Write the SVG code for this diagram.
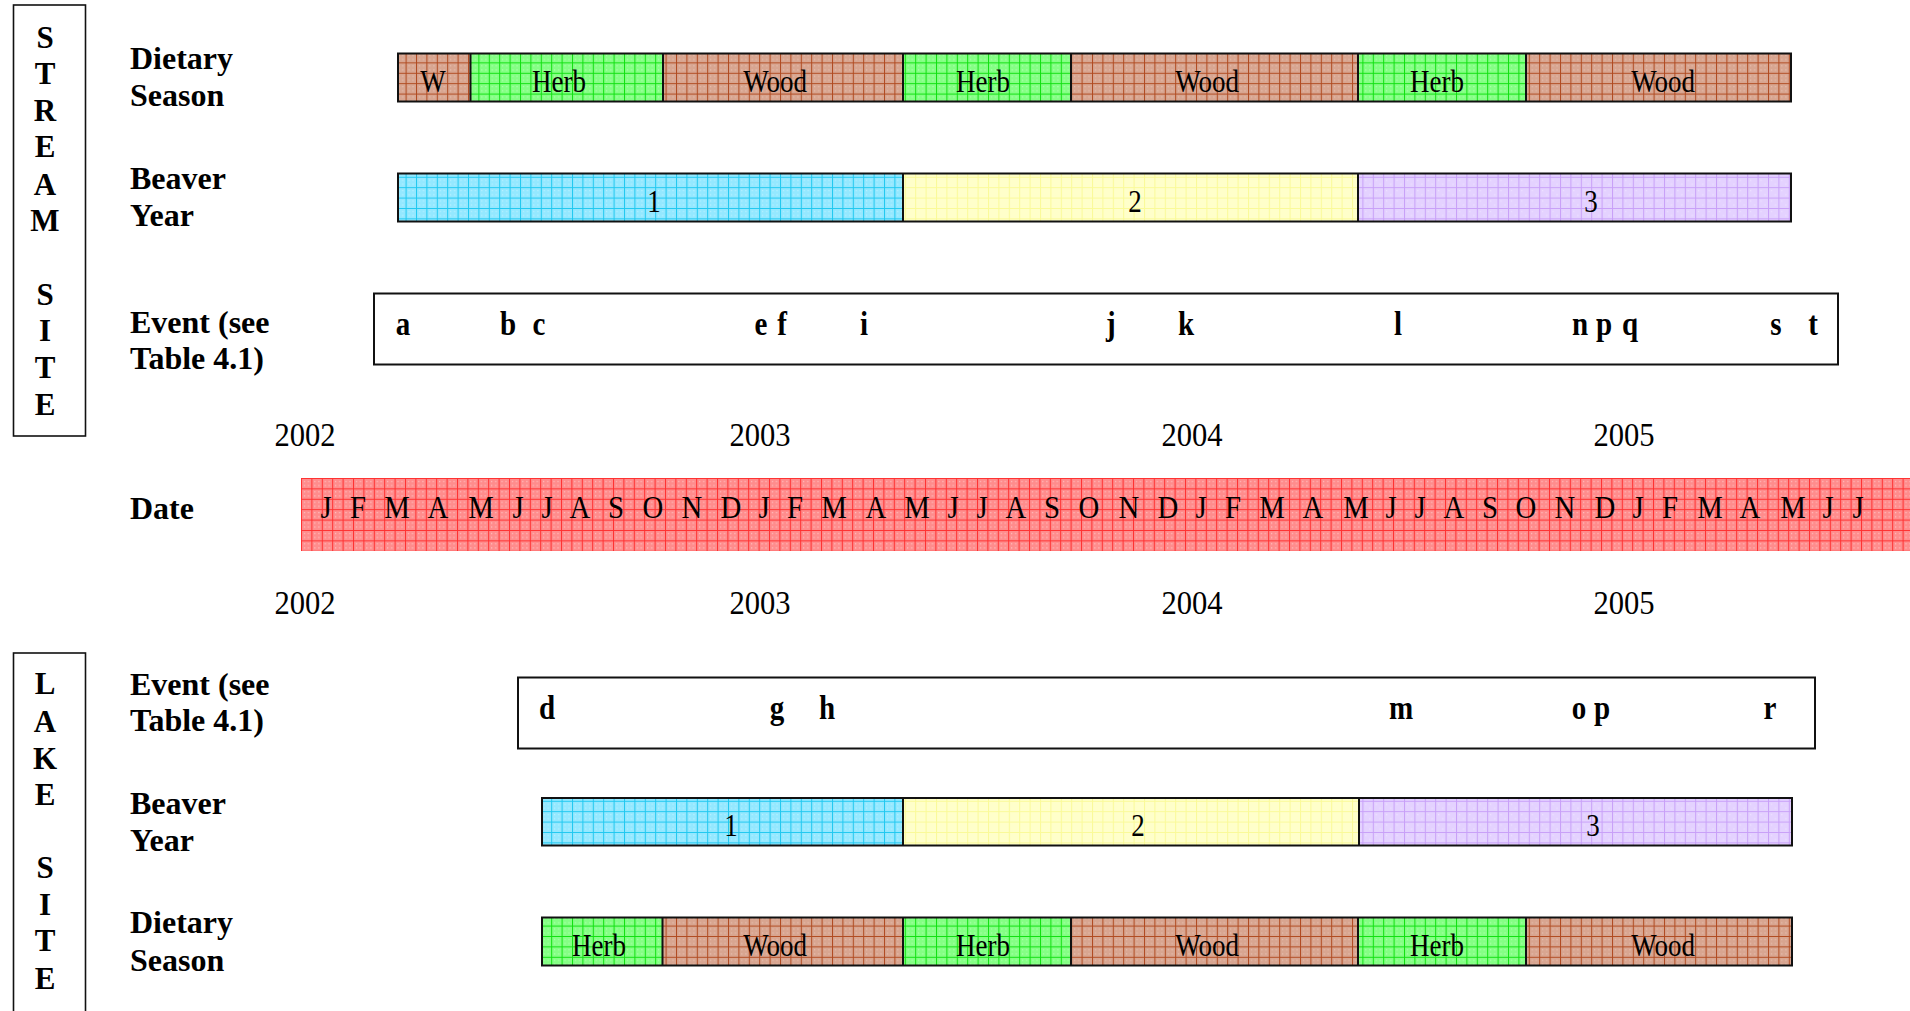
<svg xmlns="http://www.w3.org/2000/svg" width="1910" height="1011" viewBox="0 0 1910 1011">
<style>
.lbl{font-family:"Liberation Serif","Times New Roman",serif;font-weight:bold;font-size:32px;fill:#000}
.vl{font-family:"Liberation Serif","Times New Roman",serif;font-weight:bold;font-size:31px;fill:#000;text-anchor:middle}
.ev{font-family:"Liberation Serif","Times New Roman",serif;font-weight:bold;font-size:33px;fill:#000;text-anchor:middle;transform-box:fill-box;transform-origin:center;transform:scaleX(0.88)}
.bt{font-family:"Liberation Serif","Times New Roman",serif;font-size:31px;fill:#000;text-anchor:middle;transform-box:fill-box;transform-origin:center;transform:scaleX(0.87)}
.mo{font-family:"Liberation Serif","Times New Roman",serif;font-size:32px;fill:#000;text-anchor:middle;transform-box:fill-box;transform-origin:center;transform:scaleX(0.9)}
.yr{font-family:"Liberation Serif","Times New Roman",serif;font-size:34px;fill:#000;text-anchor:middle;transform-box:fill-box;transform-origin:center;transform:scaleX(0.9)}
.box{fill:#fff;stroke:#111;stroke-width:2}
.seg{stroke:#111;stroke-width:2}
</style>
<defs>
<pattern id="pWood" width="10.4" height="10.4" patternUnits="userSpaceOnUse">
<rect width="10.4" height="10.4" fill="#d8a590"/>
<path d="M0 0.5H10.4M0.5 0V10.4" stroke="#b04a20" stroke-width="1"/>
<g fill="#f4d8cc" opacity="0.7"><rect x="3" y="3" width="1" height="1"/><rect x="7" y="7" width="1" height="1"/><rect x="7" y="3" width="1" height="1"/><rect x="3" y="7" width="1" height="1"/></g>
</pattern>
<pattern id="pHerb" width="10.4" height="10.4" patternUnits="userSpaceOnUse">
<rect width="10.4" height="10.4" fill="#84ff84"/>
<path d="M0 0.5H10.4M0.5 0V10.4" stroke="#10e010" stroke-width="1"/>
<g fill="#d6ffd6" opacity="0.7"><rect x="3" y="3" width="1" height="1"/><rect x="7" y="7" width="1" height="1"/><rect x="7" y="3" width="1" height="1"/><rect x="3" y="7" width="1" height="1"/></g>
</pattern>
<pattern id="pY1" width="10.4" height="10.4" patternUnits="userSpaceOnUse">
<rect width="10.4" height="10.4" fill="#94e8ff"/>
<path d="M0 0.5H10.4M0.5 0V10.4" stroke="#20c8f0" stroke-width="1"/>
<g fill="#e0f8ff" opacity="0.7"><rect x="3" y="3" width="1" height="1"/><rect x="7" y="7" width="1" height="1"/><rect x="7" y="3" width="1" height="1"/><rect x="3" y="7" width="1" height="1"/></g>
</pattern>
<pattern id="pY2" width="10.4" height="10.4" patternUnits="userSpaceOnUse">
<rect width="10.4" height="10.4" fill="#ffffca"/>
<path d="M0 0.5H10.4M0.5 0V10.4" stroke="#fafa98" stroke-width="1"/>
</pattern>
<pattern id="pY3" width="10.4" height="10.4" patternUnits="userSpaceOnUse">
<rect width="10.4" height="10.4" fill="#e4d2ff"/>
<path d="M0 0.5H10.4M0.5 0V10.4" stroke="#c8a0f8" stroke-width="1"/>
<g fill="#f6efff" opacity="0.7"><rect x="3" y="3" width="1" height="1"/><rect x="7" y="7" width="1" height="1"/></g>
</pattern>
<pattern id="pDate" width="10.4" height="10.4" patternUnits="userSpaceOnUse" x="301" y="478">
<rect width="10.4" height="10.4" fill="#ff8c8c"/>
<path d="M0 0.5H10.4M0.5 0V10.4" stroke="#ff3030" stroke-width="1"/>
<g fill="#ffe6e6" opacity="0.8"><rect x="3" y="3" width="1" height="1"/><rect x="7" y="7" width="1" height="1"/><rect x="7" y="3" width="1" height="1"/><rect x="3" y="7" width="1" height="1"/></g>
</pattern>
</defs>
<rect width="1910" height="1011" fill="#fff"/>

<g id="stream-site">
<rect x="13.5" y="5" width="72" height="431" fill="none" stroke="#111" stroke-width="1.6"/>
<text class="vl"><tspan x="45" y="48">S</tspan><tspan x="45" y="84">T</tspan><tspan x="45" y="121">R</tspan><tspan x="45" y="157">E</tspan><tspan x="45" y="195">A</tspan><tspan x="45" y="231">M</tspan><tspan x="45" y="305">S</tspan><tspan x="45" y="341">I</tspan><tspan x="45" y="378">T</tspan><tspan x="45" y="415">E</tspan></text>
</g>

<g id="stream-dietary-label"><text class="lbl" x="130" y="69">Dietary</text><text class="lbl" x="130" y="106">Season</text></g>
<g id="stream-dietary">
<rect x="398" y="53.5" width="72.5" height="48" fill="url(#pWood)"/>
<rect x="470.5" y="53.5" width="192.5" height="48" fill="url(#pHerb)"/>
<rect x="663" y="53.5" width="240" height="48" fill="url(#pWood)"/>
<rect x="903" y="53.5" width="168" height="48" fill="url(#pHerb)"/>
<rect x="1071" y="53.5" width="287" height="48" fill="url(#pWood)"/>
<rect x="1358" y="53.5" width="168" height="48" fill="url(#pHerb)"/>
<rect x="1526" y="53.5" width="265" height="48" fill="url(#pWood)"/>
<rect x="398" y="53.5" width="1393" height="48" fill="none" class="seg"/>
<path class="seg" d="M470.5 53.5V101.5M663 53.5V101.5M903 53.5V101.5M1071 53.5V101.5M1358 53.5V101.5M1526 53.5V101.5"/>
<text class="bt" x="433" y="92">W</text>
<text class="bt" x="559" y="92">Herb</text>
<text class="bt" x="775" y="92">Wood</text>
<text class="bt" x="983" y="92">Herb</text>
<text class="bt" x="1207" y="92">Wood</text>
<text class="bt" x="1437" y="92">Herb</text>
<text class="bt" x="1663" y="92">Wood</text>
</g>

<g id="stream-beaver-label"><text class="lbl" x="130" y="189">Beaver</text><text class="lbl" x="130" y="226">Year</text></g>
<g id="stream-beaver-year">
<rect x="398" y="173.5" width="505" height="48" fill="url(#pY1)"/>
<rect x="903" y="173.5" width="455" height="48" fill="url(#pY2)"/>
<rect x="1358" y="173.5" width="433" height="48" fill="url(#pY3)"/>
<rect x="398" y="173.5" width="1393" height="48" fill="none" class="seg"/>
<path class="seg" d="M903 173.5V221.5M1358 173.5V221.5"/>
<text class="bt" x="654" y="212">1</text>
<text class="bt" x="1135" y="212">2</text>
<text class="bt" x="1591" y="212">3</text>
</g>

<g id="stream-event-label"><text class="lbl" x="130" y="333">Event (see</text><text class="lbl" x="130" y="369">Table 4.1)</text></g>
<g id="stream-events">
<rect class="box" x="374" y="293.5" width="1464" height="71"/>
<text class="ev" x="403" y="335">a</text>
<text class="ev" x="508" y="335">b</text>
<text class="ev" x="539" y="335">c</text>
<text class="ev" x="761" y="335">e</text>
<text class="ev" x="782" y="335">f</text>
<text class="ev" x="864" y="335">i</text>
<text class="ev" x="1111" y="335">j</text>
<text class="ev" x="1186" y="335">k</text>
<text class="ev" x="1398" y="335">l</text>
<text class="ev" x="1580" y="335">n</text>
<text class="ev" x="1604" y="335">p</text>
<text class="ev" x="1630" y="335">q</text>
<text class="ev" x="1776" y="335">s</text>
<text class="ev" x="1813" y="335">t</text>
</g>

<g id="years-top">
<text class="yr" x="305" y="446">2002</text>
<text class="yr" x="760" y="446">2003</text>
<text class="yr" x="1192" y="446">2004</text>
<text class="yr" x="1624" y="446">2005</text>
</g>

<g id="date-label"><text class="lbl" x="130" y="519">Date</text></g>
<g id="date-bar">
<rect x="301" y="478" width="1609" height="73" fill="url(#pDate)"/>
<text class="mo" x="326" y="518">J</text><text class="mo" x="358" y="518">F</text><text class="mo" x="397" y="518">M</text><text class="mo" x="438" y="518">A</text><text class="mo" x="481" y="518">M</text><text class="mo" x="518" y="518">J</text><text class="mo" x="547" y="518">J</text><text class="mo" x="580" y="518">A</text><text class="mo" x="616" y="518">S</text><text class="mo" x="653" y="518">O</text><text class="mo" x="692" y="518">N</text><text class="mo" x="731" y="518">D</text>
<text class="mo" x="764" y="518">J</text><text class="mo" x="795" y="518">F</text><text class="mo" x="834" y="518">M</text><text class="mo" x="876" y="518">A</text><text class="mo" x="917" y="518">M</text><text class="mo" x="953" y="518">J</text><text class="mo" x="982" y="518">J</text><text class="mo" x="1016" y="518">A</text><text class="mo" x="1052" y="518">S</text><text class="mo" x="1089" y="518">O</text><text class="mo" x="1129" y="518">N</text><text class="mo" x="1168" y="518">D</text>
<text class="mo" x="1201" y="518">J</text><text class="mo" x="1233" y="518">F</text><text class="mo" x="1272" y="518">M</text><text class="mo" x="1313" y="518">A</text><text class="mo" x="1356" y="518">M</text><text class="mo" x="1391" y="518">J</text><text class="mo" x="1420" y="518">J</text><text class="mo" x="1454" y="518">A</text><text class="mo" x="1490" y="518">S</text><text class="mo" x="1526" y="518">O</text><text class="mo" x="1565" y="518">N</text><text class="mo" x="1605" y="518">D</text>
<text class="mo" x="1638" y="518">J</text><text class="mo" x="1670" y="518">F</text><text class="mo" x="1710" y="518">M</text><text class="mo" x="1750" y="518">A</text><text class="mo" x="1793" y="518">M</text><text class="mo" x="1828" y="518">J</text><text class="mo" x="1858" y="518">J</text>
</g>

<g id="years-bottom">
<text class="yr" x="305" y="614">2002</text>
<text class="yr" x="760" y="614">2003</text>
<text class="yr" x="1192" y="614">2004</text>
<text class="yr" x="1624" y="614">2005</text>
</g>

<g id="lake-site">
<rect x="13.5" y="653" width="72" height="370" fill="none" stroke="#111" stroke-width="1.6"/>
<text class="vl"><tspan x="45" y="694">L</tspan><tspan x="45" y="732">A</tspan><tspan x="45" y="769">K</tspan><tspan x="45" y="805">E</tspan><tspan x="45" y="878">S</tspan><tspan x="45" y="915">I</tspan><tspan x="45" y="951">T</tspan><tspan x="45" y="989">E</tspan></text>
</g>

<g id="lake-event-label"><text class="lbl" x="130" y="695">Event (see</text><text class="lbl" x="130" y="731">Table 4.1)</text></g>
<g id="lake-events">
<rect class="box" x="518" y="677.5" width="1297" height="71"/>
<text class="ev" x="547" y="719">d</text>
<text class="ev" x="777" y="719">g</text>
<text class="ev" x="827" y="719">h</text>
<text class="ev" x="1401" y="719">m</text>
<text class="ev" x="1579" y="719">o</text>
<text class="ev" x="1602" y="719">p</text>
<text class="ev" x="1770" y="719">r</text>
</g>

<g id="lake-beaver-label"><text class="lbl" x="130" y="814">Beaver</text><text class="lbl" x="130" y="851">Year</text></g>
<g id="lake-beaver-year">
<rect x="542" y="798" width="361" height="47.5" fill="url(#pY1)"/>
<rect x="903" y="798" width="456" height="47.5" fill="url(#pY2)"/>
<rect x="1359" y="798" width="433" height="47.5" fill="url(#pY3)"/>
<rect x="542" y="798" width="1250" height="47.5" fill="none" class="seg"/>
<path class="seg" d="M903 798V845.5M1359 798V845.5"/>
<text class="bt" x="731" y="836">1</text>
<text class="bt" x="1138" y="836">2</text>
<text class="bt" x="1593" y="836">3</text>
</g>

<g id="lake-dietary-label"><text class="lbl" x="130" y="933">Dietary</text><text class="lbl" x="130" y="971">Season</text></g>
<g id="lake-dietary">
<rect x="542" y="917.5" width="120.5" height="48" fill="url(#pHerb)"/>
<rect x="662.5" y="917.5" width="240.5" height="48" fill="url(#pWood)"/>
<rect x="903" y="917.5" width="168" height="48" fill="url(#pHerb)"/>
<rect x="1071" y="917.5" width="287" height="48" fill="url(#pWood)"/>
<rect x="1358" y="917.5" width="168" height="48" fill="url(#pHerb)"/>
<rect x="1526" y="917.5" width="266" height="48" fill="url(#pWood)"/>
<rect x="542" y="917.5" width="1250" height="48" fill="none" class="seg"/>
<path class="seg" d="M662.5 917.5V965.5M903 917.5V965.5M1071 917.5V965.5M1358 917.5V965.5M1526 917.5V965.5"/>
<text class="bt" x="599" y="956">Herb</text>
<text class="bt" x="775" y="956">Wood</text>
<text class="bt" x="983" y="956">Herb</text>
<text class="bt" x="1207" y="956">Wood</text>
<text class="bt" x="1437" y="956">Herb</text>
<text class="bt" x="1663" y="956">Wood</text>
</g>

<g id="connectors"></g>
</svg>
